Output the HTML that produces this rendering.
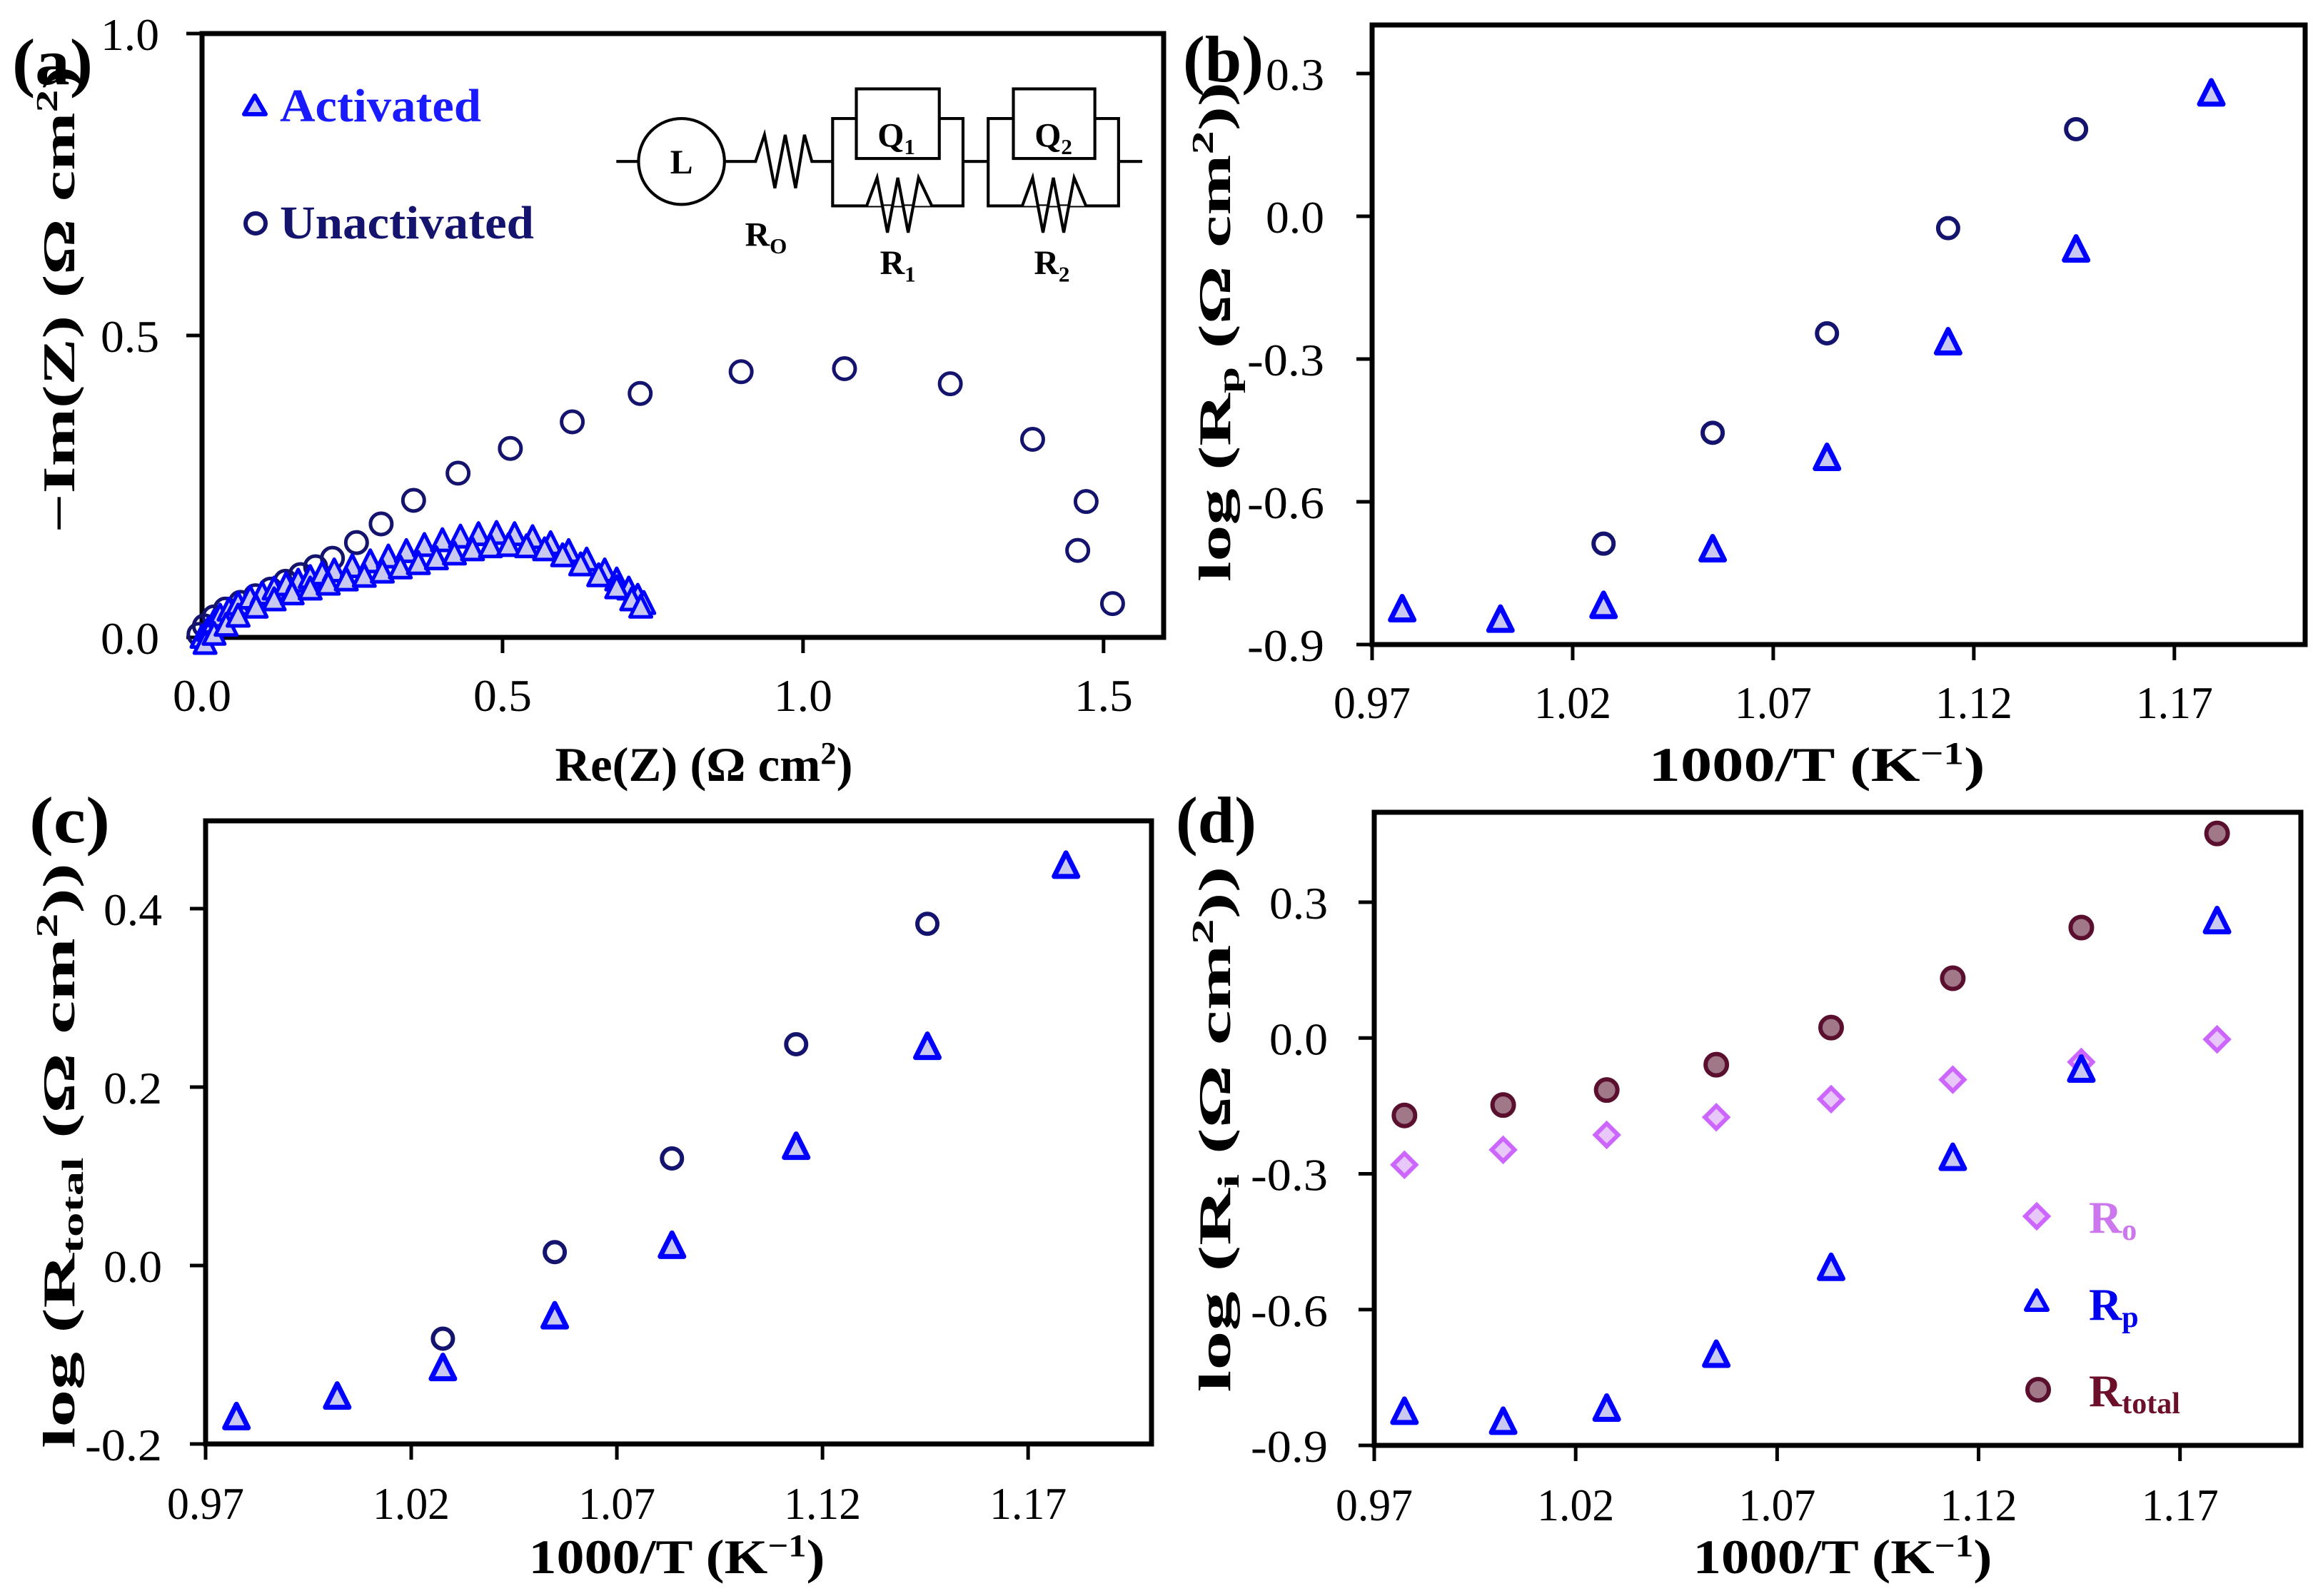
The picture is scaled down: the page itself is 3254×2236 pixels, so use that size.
<!DOCTYPE html>
<html><head><meta charset="utf-8">
<style>
html,body{margin:0;padding:0;background:#fff;}
svg, svg text{font-family:"Liberation Serif","Times New Roman",serif;}
</style></head>
<body>
<svg id="fig" xmlns="http://www.w3.org/2000/svg" width="3254" height="2231" viewBox="0 0 3254 2231" font-family="Liberation Serif, Times New Roman, serif">
<rect width="3254" height="2231" fill="#fff"/>
<g id="layer"></g>
<text x="17" y="118" font-size="92" font-weight="bold" textLength="113" lengthAdjust="spacingAndGlyphs">(a)</text>
<text x="1657" y="114" font-size="92" font-weight="bold" textLength="113" lengthAdjust="spacingAndGlyphs">(b)</text>
<text x="41" y="1180" font-size="92" font-weight="bold" textLength="113" lengthAdjust="spacingAndGlyphs">(c)</text>
<text x="1647" y="1180" font-size="92" font-weight="bold" textLength="113" lengthAdjust="spacingAndGlyphs">(d)</text>
<text x="986" y="1094" font-size="68" font-weight="bold" text-anchor="middle" textLength="417" lengthAdjust="spacingAndGlyphs">Re(Z) (Ω cm<tspan font-size="44" dy="-24">2</tspan><tspan dy="24">)</tspan></text>
<text transform="translate(104,420) rotate(-90)" font-size="64" font-weight="bold" text-anchor="middle" textLength="654" lengthAdjust="spacingAndGlyphs">−Im(Z) (Ω cm<tspan font-size="42" dy="-24">2</tspan><tspan dy="24">)</tspan></text>
<text x="2545" y="1094" font-size="68" font-weight="bold" text-anchor="middle" textLength="471" lengthAdjust="spacingAndGlyphs">1000/T (K<tspan font-size="44" dy="-24">−1</tspan><tspan dy="24">)</tspan></text>
<text transform="translate(1723,465) rotate(-90)" font-size="64" font-weight="bold" text-anchor="middle" textLength="700" lengthAdjust="spacingAndGlyphs">log (R<tspan font-size="42" dy="12">p</tspan><tspan dy="-12"> (Ω cm</tspan><tspan font-size="42" dy="-24">2</tspan><tspan dy="24">))</tspan></text>
<text x="948" y="2204" font-size="68" font-weight="bold" text-anchor="middle" textLength="415" lengthAdjust="spacingAndGlyphs">1000/T (K<tspan font-size="44" dy="-24">−1</tspan><tspan dy="24">)</tspan></text>
<text transform="translate(104,1619) rotate(-90)" font-size="64" font-weight="bold" text-anchor="middle" textLength="820" lengthAdjust="spacingAndGlyphs">log (R<tspan font-size="42" dy="12">total</tspan><tspan dy="-12"> (Ω cm</tspan><tspan font-size="42" dy="-24">2</tspan><tspan dy="24">))</tspan></text>
<text x="2581" y="2204" font-size="68" font-weight="bold" text-anchor="middle" textLength="419" lengthAdjust="spacingAndGlyphs">1000/T (K<tspan font-size="44" dy="-24">−1</tspan><tspan dy="24">)</tspan></text>
<text transform="translate(1723,1582) rotate(-90)" font-size="64" font-weight="bold" text-anchor="middle" textLength="737" lengthAdjust="spacingAndGlyphs">log (R<tspan font-size="42" dy="12">i</tspan><tspan dy="-12"> (Ω cm</tspan><tspan font-size="42" dy="-24">2</tspan><tspan dy="24">))</tspan></text>

<g>
<polygon points="357,134 342,160 372,160" fill="#c8c8f0" stroke="#0000ff" stroke-width="6" stroke-linejoin="round"/>
<text x="392" y="170" font-size="66" font-weight="bold" fill="#1a1aff" textLength="282" lengthAdjust="spacingAndGlyphs">Activated</text>
<circle cx="358" cy="313" r="14" fill="#fff" stroke="#14146e" stroke-width="6"/>
<text x="392" y="334" font-size="66" font-weight="bold" fill="#14146e" textLength="356" lengthAdjust="spacingAndGlyphs">Unactivated</text>
</g>

<g transform="scale(2.0753)" fill="none" stroke="#000" stroke-width="2">
<line x1="416" y1="109" x2="431" y2="109"/>
<circle cx="460" cy="109" r="29"/>
<polyline points="489,109 510,109 516,91 523,127 530,91 537,127 543,91 548,109 562,109"/>
<polyline points="562,109 562,80 650,80 650,109"/>
<polyline points="562,109 562,139 650,139 650,109"/>
<rect x="578" y="60" width="56" height="47" fill="#fff"/>
<polyline points="585,139 592,120 599,157 606,120 613,157 620,120 629,139" fill="#fff"/>
<line x1="650" y1="109" x2="667" y2="109"/>
<polyline points="667,109 667,80 755,80 755,109"/>
<polyline points="667,109 667,139 755,139 755,109"/>
<rect x="684" y="60" width="55" height="47" fill="#fff"/>
<polyline points="690,139 697,120 704,157 711,120 718,157 725,120 733,139" fill="#fff"/>
<line x1="755" y1="109" x2="771" y2="109"/>
<g stroke="none" fill="#000" font-weight="bold" font-size="23" text-anchor="middle">
<text x="460" y="117">L</text>
<text x="605" y="99">Q<tspan font-size="15" dy="5">1</tspan></text>
<text x="711" y="99">Q<tspan font-size="15" dy="5">2</tspan></text>
<text x="517" y="166">R<tspan font-size="15" dy="5">O</tspan></text>
<text x="606" y="185">R<tspan font-size="15" dy="5">1</tspan></text>
<text x="710" y="185">R<tspan font-size="15" dy="5">2</tspan></text>
</g>
</g>

<g>
<polygon points="2853,1688 2869,1704 2853,1720 2837,1704" fill="#e8c8f8" stroke="#cc66ff" stroke-width="6"/>
<text x="2926" y="1727" font-size="64" font-weight="bold" fill="#cc77ee">R<tspan font-size="42" dy="10">o</tspan></text>
<polygon points="2853,1808 2838,1835 2868,1835" fill="#c8c8f0" stroke="#0000ff" stroke-width="6" stroke-linejoin="round"/>
<text x="2926" y="1849" font-size="64" font-weight="bold" fill="#0000ee">R<tspan font-size="42" dy="10">p</tspan></text>
<circle cx="2855" cy="1947" r="15" fill="#a07888" stroke="#5a0f2e" stroke-width="6"/>
<text x="2926" y="1970" font-size="64" font-weight="bold" fill="#6b0f2a">R<tspan font-size="42" dy="10">total</tspan></text>
</g>
</svg>

<script>
const aActX = [0.0,0.01,0.02,0.03,0.045,0.06,0.08,0.10,0.12,0.14,0.16,0.18,0.20,0.22,0.25,0.28,0.31,0.34,0.37,0.40,0.43,0.46,0.49,0.52,0.55,0.58,0.61,0.64,0.67,0.69,0.71,0.725,0.735,
  0.005,0.02,0.04,0.06,0.09,0.12,0.15,0.18,0.21,0.24,0.27,0.30,0.33,0.36,0.39,0.42,0.45,0.48,0.51,0.54,0.57,0.60,0.63,0.66,0.69,0.715,0.73];
const aActY = [0.0,0.012,0.025,0.035,0.045,0.055,0.065,0.072,0.08,0.087,0.093,0.099,0.105,0.11,0.117,0.125,0.133,0.142,0.152,0.16,0.166,0.17,0.172,0.17,0.165,0.155,0.142,0.128,0.11,0.095,0.08,0.068,0.056,
  -0.01,0.005,0.02,0.035,0.05,0.062,0.072,0.08,0.088,0.095,0.101,0.108,0.115,0.122,0.13,0.138,0.145,0.15,0.152,0.15,0.145,0.135,0.12,0.102,0.082,0.062,0.05];
const aUnX = [1.515,1.457,1.471,1.382,1.245,1.069,0.897,0.729,0.616,0.513,0.426,0.352,0.298,0.257,0.217,0.189,0.164,0.139,0.114,0.089,0.064,0.039,0.020,0.004,-0.005];
const aUnY = [0.056,0.144,0.225,0.328,0.420,0.445,0.440,0.404,0.357,0.313,0.272,0.227,0.188,0.157,0.131,0.117,0.104,0.093,0.080,0.069,0.058,0.047,0.034,0.019,0.005];
const invT = [0.9775,1.0020,1.0277,1.0549,1.0834,1.1136,1.1455,1.1792];
const invTUn = [1.0277,1.0549,1.0834,1.1136,1.1455];
const rpAct = [-0.826,-0.848,-0.819,-0.700,-0.508,-0.265,-0.070,0.258];
const rpUn = [-0.688,-0.455,-0.246,-0.025,0.183];
const rtotAct = [-0.170,-0.147,-0.115,-0.057,0.022,0.133,0.245,0.448];
const rtotUn = [-0.082,0.015,0.120,0.248,0.383];
const roVals = [-0.280,-0.247,-0.214,-0.175,-0.135,-0.092,-0.053,-0.003];
const rtotalD = [-0.171,-0.148,-0.115,-0.059,0.023,0.132,0.244,0.452];
const xTicksA = [0, 0.5, 1.0, 1.5];
const xTickLabelsA = ["0.0","0.5","1.0","1.5"];
const yTicksA = [0, 0.5, 1.0];
const yTickLabelsA = ["0.0","0.5","1.0"];
const xTicksT = [0.97,1.02,1.07,1.12,1.17];
const xTickLabelsT = ["0.97","1.02","1.07","1.12","1.17"];
const yTicksBD = [-0.9,-0.6,-0.3,0,0.3];
const yTickLabelsBD = ["-0.9","-0.6","-0.3","0.0","0.3"];
const yTicksC = [-0.2,0,0.2,0.4];
const yTickLabelsC = ["-0.2","0.0","0.2","0.4"];

const NS = "http://www.w3.org/2000/svg";
const layer = document.getElementById('layer');
function mk(tag, attrs, parent){
  const e = document.createElementNS(NS, tag);
  for (const k in attrs) e.setAttribute(k, attrs[k]);
  (parent||layer).appendChild(e);
  return e;
}
function labW(s){ return s.length >= 4 ? 108 : 82; }
function panel(id, px0, px1, xmin, xmax, pyb, pyt, ymin, ymax, xt, xtl, yt, ytl, xlabY, ylabR){
  const sx = v => px0 + (v - xmin) / (xmax - xmin) * (px1 - px0);
  const sy = v => pyb - (v - ymin) / (ymax - ymin) * (pyb - pyt);
  const g = mk('g', {});
  
  
  const fr = mk('rect', {x:px0, y:pyt, width:px1-px0, height:pyb-pyt, fill:'none', stroke:'#000', 'stroke-width':7}, g);
  
  
  xt.forEach((v,i)=>{
    const t = mk('line', {x1:sx(v), x2:sx(v), y1:pyb, y2:pyb+22, stroke:'#000', 'stroke-width':5}, g);
    
    
    const l = mk('text', {x:sx(v), y:xlabY, 'font-size':64, 'text-anchor':'middle', textLength:labW(xtl[i]), lengthAdjust:'spacingAndGlyphs'}, g);
    
    
    l.textContent = xtl[i];
  });
  yt.forEach((v,i)=>{
    const t = mk('line', {x1:px0-22, x2:px0, y1:sy(v), y2:sy(v), stroke:'#000', 'stroke-width':5}, g);
    
    
    const l = mk('text', {x:px0-ylabR, y:sy(v)+23, 'font-size':64, 'text-anchor':'end', textLength:labW(ytl[i]), lengthAdjust:'spacingAndGlyphs'}, g);
    
    
    l.textContent = ytl[i];
  });
  return {sx, sy, g};
}
function tri(p, xs, ys, s, sw, name){
  xs.forEach((xv,i)=>{
    const x = p.sx(xv), y = p.sy(ys[i]);
    const e = mk('polygon', {points:`${x},${y-s*0.55} ${x-s/2},${y+s*0.45} ${x+s/2},${y+s*0.45}`, fill:'#c8c8f0', stroke:'#0000ff', 'stroke-width':sw, 'stroke-linejoin':'round'}, p.g);
    
    
  });
}
function circ(p, xs, ys, r, sw, fill, stroke, name){
  xs.forEach((xv,i)=>{
    const e = mk('circle', {cx:p.sx(xv), cy:p.sy(ys[i]), r:r, fill:fill, stroke:stroke, 'stroke-width':sw}, p.g);
    
    
  });
}
function diam(p, xs, ys, s, name){
  xs.forEach((xv,i)=>{
    const x = p.sx(xv), y = p.sy(ys[i]);
    const e = mk('polygon', {points:`${x},${y-s} ${x+s},${y} ${x},${y+s} ${x-s},${y}`, fill:'#e8c8f8', stroke:'#cc66ff', 'stroke-width':6}, p.g);
    
    
  });
}

const pa = panel('a', 283, 1630, 0, 1.6, 893, 47, 0, 1.0, xTicksA, xTickLabelsA, yTicksA, yTickLabelsA, 996, 60);
const pb = panel('b', 1922, 3229, 0.97, 1.2026, 903, 35, -0.9, 0.402, xTicksT, xTickLabelsT, yTicksBD, yTickLabelsBD, 1006, 67);
const pc = panel('c', 288, 1613, 0.97, 1.2, 2023, 1150, -0.2, 0.4984, xTicksT, xTickLabelsT, yTicksC, yTickLabelsC, 2128, 61);
const pd = panel('d', 1925, 3223, 0.97, 1.2, 2025, 1138, -0.9, 0.4987, xTicksT, xTickLabelsT, yTicksBD, yTickLabelsBD, 2130, 65);

circ(pa, aUnX, aUnY, 15, 5, 'none', '#14146e', 'unactivated-point');
tri(pa, aActX, aActY, 30, 5, 'activated-point');

circ(pb, invTUn, rpUn, 14, 6, '#fff', '#14146e', 'rp-unactivated-point');
tri(pb, invT, rpAct, 33, 7, 'rp-activated-point');

circ(pc, invTUn, rtotUn, 14, 6, '#fff', '#14146e', 'rtotal-unactivated-point');
tri(pc, invT, rtotAct, 33, 7, 'rtotal-activated-point');

diam(pd, invT, roVals, 16, 'ro-point');
tri(pd, invT, rpAct, 33, 7, 'rp-point');
circ(pd, invT, rtotalD, 15, 6, '#a07888', '#5a0f2e', 'rtotal-point');
</script>
</body></html>
